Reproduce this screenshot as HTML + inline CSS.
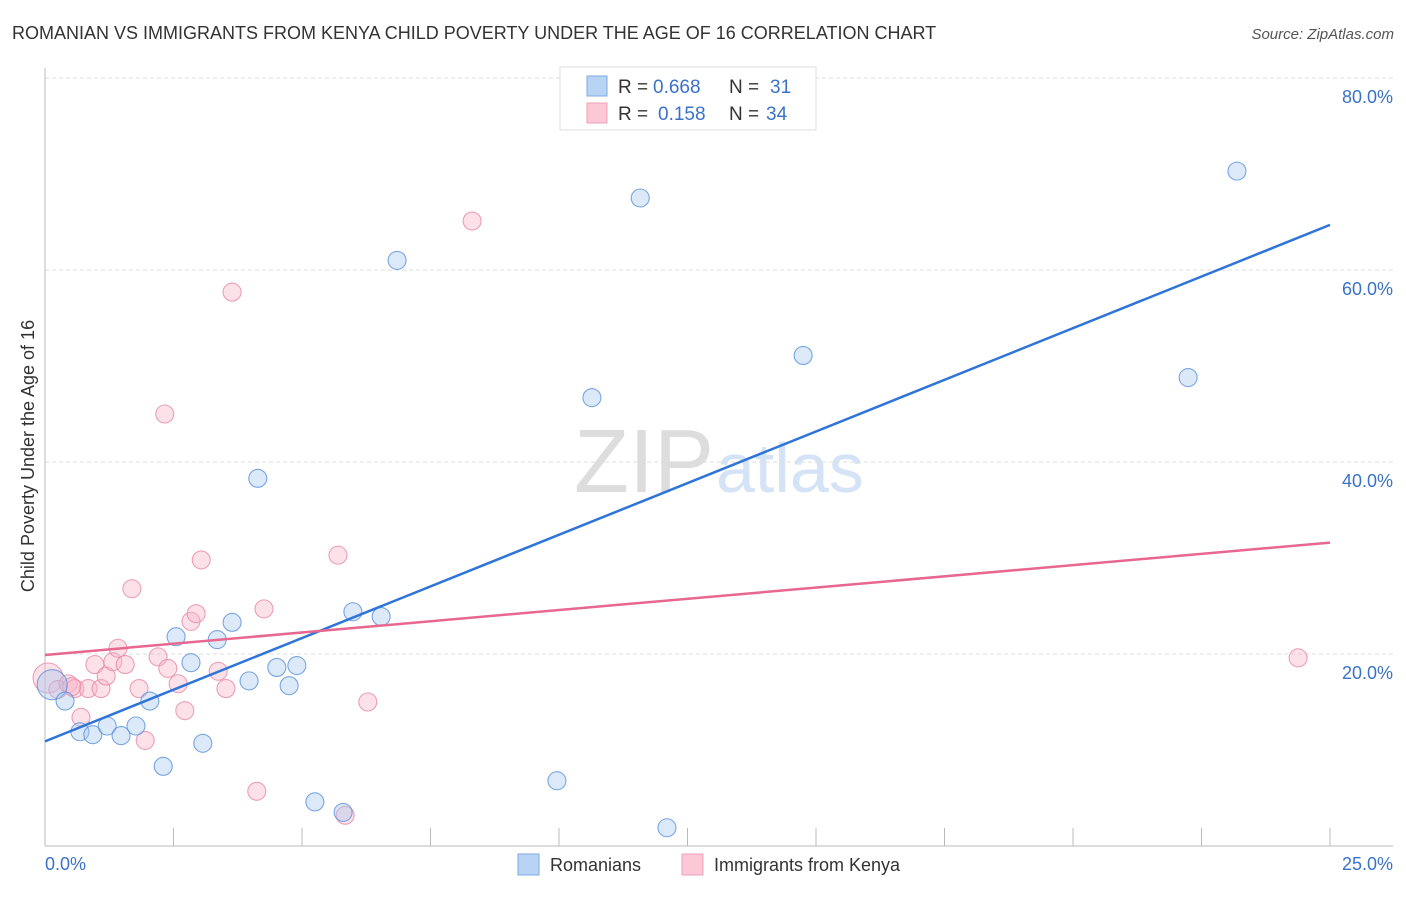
<!DOCTYPE html>
<html><head><meta charset="utf-8"><style>
body{margin:0;background:#fff;font-family:"Liberation Sans",sans-serif}
svg text{font-family:"Liberation Sans",sans-serif}
</style></head><body>
<svg width="1406" height="892" xmlns="http://www.w3.org/2000/svg">
<text x="12" y="39" font-size="18" fill="#333">ROMANIAN VS IMMIGRANTS FROM KENYA CHILD POVERTY UNDER THE AGE OF 16 CORRELATION CHART</text>
<text x="1394" y="39" font-size="15" fill="#555" text-anchor="end" font-style="italic">Source: ZipAtlas.com</text>
<text x="714" y="492" font-size="90" fill="#ddd" text-anchor="end" font-family="Liberation Serif">ZIP</text>
<text x="716" y="492" font-size="70" fill="#d4e3f5">atlas</text>
<g id="grid"></g>
<g id="axes"></g>
<g id="marks"></g>
<text transform="translate(34,456) rotate(-90)" font-size="18" fill="#333" text-anchor="middle">Child Poverty Under the Age of 16</text>
<text x="45" y="870" font-size="18" fill="#3a72c9">0.0%</text>
<text x="1393" y="870" font-size="18" fill="#3a72c9" text-anchor="end">25.0%</text>
<g>
<rect x="560" y="67" width="256" height="63" fill="#fff" stroke="#ddd"/>
<rect x="587" y="76" width="20" height="20" fill="#b9d3f5" stroke="#7fa8e0"/>
<rect x="587" y="103" width="20" height="20" fill="#fcc8d6" stroke="#eda0b8"/>
<text x="618" y="93" font-size="19" fill="#333">R =</text>
<text x="653" y="93" font-size="19" fill="#3a72c9">0.668</text>
<text x="729" y="93" font-size="19" fill="#333">N =</text>
<text x="770" y="93" font-size="19" fill="#3a72c9">31</text>
<text x="618" y="120" font-size="19" fill="#333">R =</text>
<text x="658" y="120" font-size="19" fill="#3a72c9">0.158</text>
<text x="729" y="120" font-size="19" fill="#333">N =</text>
<text x="766" y="120" font-size="19" fill="#3a72c9">34</text>
</g>
<g>
<rect x="518" y="854" width="21" height="21" fill="#b9d3f5" stroke="#7fa8e0"/>
<text x="550" y="871" font-size="18" fill="#333">Romanians</text>
<rect x="682" y="854" width="21" height="21" fill="#fcc8d6" stroke="#eda0b8"/>
<text x="714" y="871" font-size="18" fill="#333">Immigrants from Kenya</text>
</g>
</svg>
<script>
const yTicks=[20,40,60,80];
const blueX=[0.14,0.39,0.68,0.93,1.21,1.48,1.77,2.04,2.30,2.55,2.84,3.07,3.35,3.64,3.97,4.14,4.51,4.75,4.90,5.25,5.80,5.99,6.54,6.85,9.96,10.64,11.58,12.10,14.75,22.24,23.19];
const blueY=[16.8,15.1,11.9,11.6,12.5,11.5,12.5,15.1,8.3,21.8,19.1,10.7,21.5,23.3,17.2,38.3,18.6,16.7,18.8,4.6,3.5,24.4,23.9,61.0,6.8,46.7,67.5,1.9,51.1,48.8,70.3];
const pinkX=[0.06,0.25,0.45,0.58,0.70,0.84,0.97,1.09,1.19,1.32,1.42,1.56,1.69,1.83,1.95,2.20,2.33,2.39,2.59,2.72,2.84,2.94,3.04,3.37,3.52,3.64,4.12,4.26,5.70,5.84,6.28,8.31,24.38,0.52];
const pinkY=[17.5,16.3,16.9,16.4,13.4,16.4,18.9,16.4,17.7,19.2,20.6,18.9,26.8,16.4,11.0,19.7,45.0,18.5,16.9,14.1,23.4,24.2,29.8,18.2,16.4,57.7,5.7,24.7,30.3,3.2,15.0,65.1,19.6,16.6];
const blueLine=[10.9,64.7];
const pinkLine=[19.9,31.6];
const NS="http://www.w3.org/2000/svg";
const X=v=>45+v/25*1285;
const Y=v=>846-v/20*192;
function mk(t,a,p){const e=document.createElementNS(NS,t);for(const k in a)e.setAttribute(k,a[k]);p.appendChild(e);return e;}
const grid=document.getElementById('grid'),axes=document.getElementById('axes'),marks=document.getElementById('marks');
yTicks.forEach(t=>{
 const l=mk('line',{x1:45,x2:1393,y1:Y(t),y2:Y(t),stroke:'#ddd','stroke-dasharray':'4,3'},grid);
 
 
 const tx=mk('text',{x:1393,y:Y(t)+25,'font-size':18,fill:'#3a72c9','text-anchor':'end'},grid);
 tx.textContent=t.toFixed(1)+'%';
 
 
});
const ya=mk('line',{x1:45,x2:45,y1:68,y2:846,stroke:'#bbb'},axes);


const xa=mk('line',{x1:45,x2:1393,y1:846,y2:846,stroke:'#bbb'},axes);


for(let i=1;i<=10;i++){const v=i*2.5;
 const t=mk('line',{x1:X(v),x2:X(v),y1:828,y2:846,stroke:'#bbb'},axes);
 
 
}
function pts(xs,ys,fill,stroke,name){xs.forEach((x,i)=>{
 const big=(i===0);
 const c=mk('circle',{cx:X(x),cy:Y(ys[i]),r:big?15:9,fill:fill,'fill-opacity':0.4,stroke:stroke,'stroke-opacity':0.8,'stroke-width':1.1},marks);
 
 
});}
pts(pinkX,pinkY,'#f7b3c7','#e98aa8','point-kenya');
pts(blueX,blueY,'#a8c7f0','#5b91dc','point-romanians');
const bl=mk('line',{x1:X(0),y1:Y(blueLine[0]),x2:X(25),y2:Y(blueLine[1]),stroke:'#2f74d8','stroke-width':2.5},marks);


const pl=mk('line',{x1:X(0),y1:Y(pinkLine[0]),x2:X(25),y2:Y(pinkLine[1]),stroke:'#e8678f','stroke-width':2.5},marks);


</script>
</body></html>
